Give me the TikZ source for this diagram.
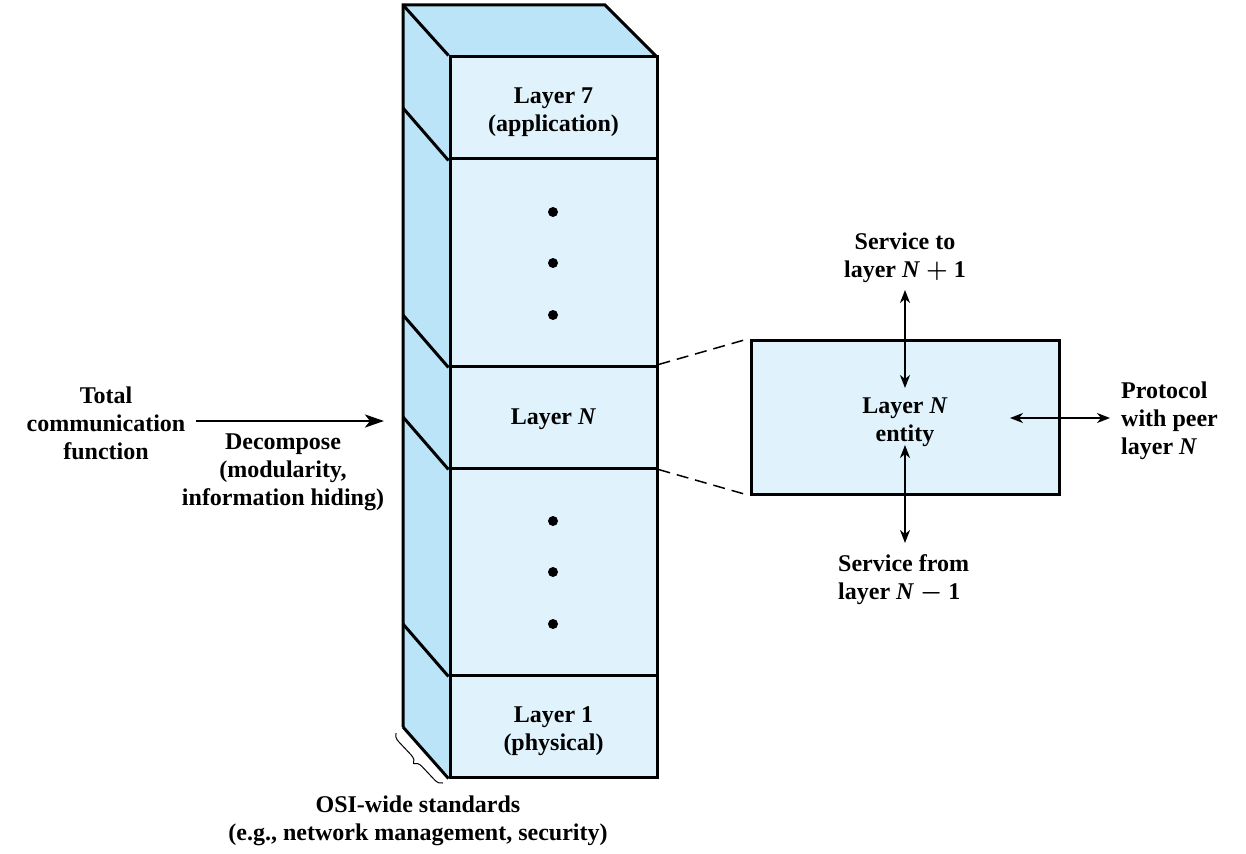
\documentclass[tikz,border=0pt]{standalone}
\usepackage{fontspec}
\setmainfont{Liberation Serif}
\usetikzlibrary{arrows.meta,decorations.pathreplacing}
\definecolor{sideblue}{RGB}{187,228,248}
\definecolor{frontblue}{RGB}{224,242,252}
\newcommand{\mplus}{{\boldmath$+$}}
\newcommand{\mminus}{{\boldmath$-$}}
\begin{document}
\begin{tikzpicture}[x=1pt,y=-1pt,
  lbl/.style={font=\fontsize{24}{28}\selectfont\bfseries, align=center, inner sep=0pt},
  layerbox/.style={draw, fill=frontblue, line width=3pt, minimum width=207pt, inner sep=0pt},
  thick3/.style={line width=3pt},
  dot/.style={circle, fill=black, inner sep=0pt, minimum size=10pt},
  dblarrow/.style={line width=1.8pt, {Stealth[length=13pt,width=10pt,inset=4pt]}-{Stealth[length=13pt,width=10pt,inset=4pt]}},
  dashline/.style={line width=1.5pt, dash pattern=on 12pt off 7pt}
]
\useasboundingbox (0,0) rectangle (1246,853);

% side and top faces
\fill[sideblue] (403,5) -- (450,57) -- (450,777) -- (403,727) -- cycle;
\fill[sideblue] (403,5) -- (605,5) -- (657,57) -- (450,57) -- cycle;

% front layers
\node[layerbox, minimum height=102pt] (L7) at (553.5,108) {};
\node[layerbox, minimum height=207pt] (D1) at (553.5,262.5) {};
\node[layerbox, minimum height=102pt] (LN) at (553.5,417) {};
\node[layerbox, minimum height=207pt] (D2) at (553.5,571.5) {};
\node[layerbox, minimum height=102pt] (L1) at (553.5,726) {};
\node[lbl] (L7t) at (553.5,112) {Layer 7\\(application)};
\node[lbl] (LNt) at (553.5,419) {Layer \textit{N}};
\node[lbl] (L1t) at (553.5,731) {Layer 1\\(physical)};

% outline of side and top faces
\draw[thick3] (403,727) -- (403,5) -- (605,5) -- (657,57);
\draw[thick3] (403,5) -- (L7.north west);
\draw[thick3] (403,108) -- (L7.south west);
\draw[thick3] (403,315) -- (D1.south west);
\draw[thick3] (403,417) -- (LN.south west);
\draw[thick3] (403,624) -- (D2.south west);
\draw[thick3] (403,727) -- (L1.south west);

% dots
\node[dot] (d11) at (553,212) {};
\node[dot] (d12) at (553,263) {};
\node[dot] (d13) at (553,315) {};
\node[dot] (d21) at (553,521) {};
\node[dot] (d22) at (553,572) {};
\node[dot] (d23) at (553,624) {};

% brace
\coordinate (b1) at (443,783);
\coordinate (b2) at (396,733);
\draw[line width=1pt, decorate, decoration={brace, amplitude=8pt}] (b1) -- (b2);
\node[lbl] (osi) at (418,821) {OSI-wide standards\\(e.g., network management, security)};

% left arrow and labels
\node[lbl] (total) at (106,423) {Total\\communication\\function};
\coordinate (la) at (196,421);
\coordinate (lb) at (384,421);
\draw[line width=2.8pt, -{Stealth[length=19pt,width=13pt,inset=5pt]}] (la) -- (lb);
\node[lbl] (decomp) at (283,472) {Decompose\\(modularity,\\information hiding)};

% entity box
\node[draw, fill=frontblue, line width=3pt, minimum width=308pt, minimum height=154pt, inner sep=0pt] (E) at (905,417) {};
\node[lbl] (Et) at (905,422) {Layer \textit{N}\\entity};
\draw[dashline] (LN.north east) -- (E.north west);
\draw[dashline] (LN.south east) -- (E.south west);

% arrows around entity
\node[lbl] (svcto) at (905,257.5) {Service to\\layer \textit{N} \mplus\ 1};
\node[lbl, align=left, anchor=west] (svcfrom) at (838,580) {Service from\\layer \textit{N} \mminus\ 1};
\node[lbl, align=left, anchor=west] (proto) at (1121,421) {Protocol\\with peer\\layer \textit{N}};
\coordinate (t1) at (905,290);
\coordinate (t2) at (905,388);
\coordinate (b3) at (905,445);
\coordinate (b4) at (905,543);
\coordinate (h1) at (1010,418);
\coordinate (h2) at (1110,418);
\draw[dblarrow] (t1) -- (t2);
\draw[dblarrow] (b3) -- (b4);
\draw[dblarrow] (h1) -- (h2);
\end{tikzpicture}
\end{document}
